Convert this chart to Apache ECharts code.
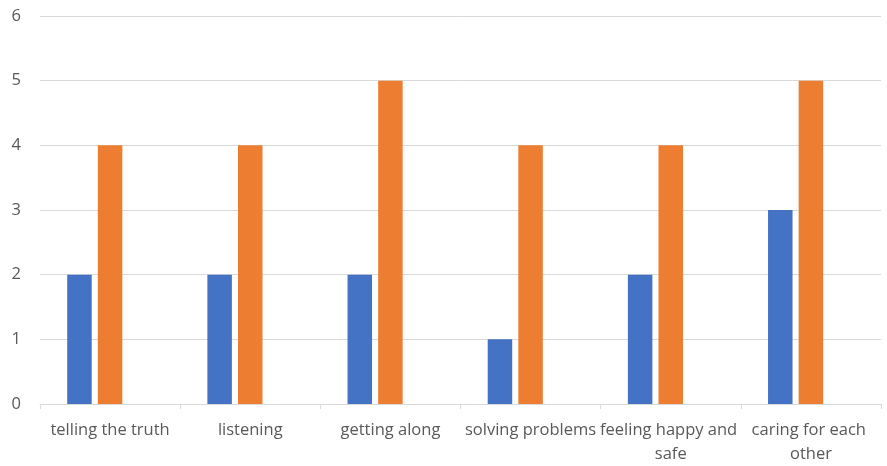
<!DOCTYPE html>
<html>
<head>
<meta charset="utf-8">
<script src="https://cdn.jsdelivr.net/npm/echarts@6/dist/echarts.min.js"></script>
<style>
  html, body { margin: 0; padding: 0; background: #ffffff; }
  #chart { width: 887px; height: 466px; }
</style>
</head>
<body>
<div id="chart"></div>
<script>
// Categories along the x axis
const categories = [
  'telling the truth',
  'listening',
  'getting along',
  'solving problems',
  'feeling happy and safe',
  'caring for each other'
];

// Series values
const seriesBlue = [2, 2, 2, 1, 2, 3];
const seriesOrange = [4, 4, 5, 4, 4, 5];
// Third slot in each group is left empty
const seriesEmpty = [null, null, null, null, null, null];

// Y axis ticks
const yTicks = [0, 1, 2, 3, 4, 5, 6];

const labelColor = '#595959';
const gridColor = '#d9d9d9';
const fontFamily = '"Open Sans", "Liberation Sans", sans-serif';

const chart = echarts.init(document.getElementById('chart'));

const barBase = {
  type: 'bar',
  barWidth: 24.5,
  barGap: '25%',
  animation: false
};

chart.setOption({
  animation: false,
  grid: { left: 40, right: 6, top: 16, bottom: 61, containLabel: false },
  xAxis: {
    type: 'category',
    data: categories,
    axisLine: { show: true, lineStyle: { color: gridColor, width: 1 } },
    axisTick: { show: true, alignWithLabel: false, length: 5, lineStyle: { color: gridColor } },
    axisLabel: {
      interval: 0,
      color: labelColor,
      fontFamily: fontFamily,
      fontSize: 16.5,
      margin: 14,
      lineHeight: 24,
      width: 146,
      overflow: 'break'
    }
  },
  yAxis: {
    type: 'value',
    min: yTicks[0],
    max: yTicks[yTicks.length - 1],
    interval: 1,
    axisLine: { show: false },
    axisTick: { show: false },
    splitLine: { show: true, lineStyle: { color: gridColor, width: 1 } },
    axisLabel: {
      color: labelColor,
      fontFamily: fontFamily,
      fontSize: 16.5,
      margin: 19
    }
  },
  series: [
    Object.assign({}, barBase, { name: 'Series 1', data: seriesBlue, itemStyle: { color: '#4472C4' } }),
    Object.assign({}, barBase, { name: 'Series 2', data: seriesOrange, itemStyle: { color: '#ED7D31' } }),
    Object.assign({}, barBase, { name: 'Series 3', data: seriesEmpty, itemStyle: { color: '#A5A5A5' } })
  ]
});
</script>
</body>
</html>
